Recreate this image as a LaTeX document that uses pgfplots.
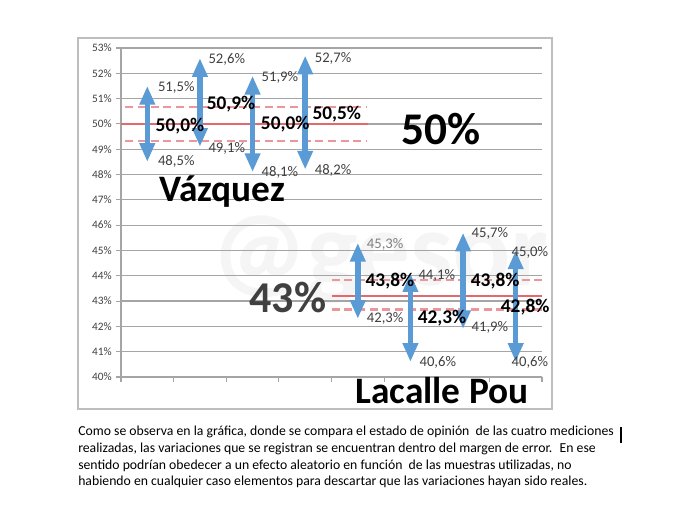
\documentclass[border=0pt]{standalone}
\usepackage{pgfplots}
\pgfplotsset{compat=1.18}
\usepackage{fontspec}
\setmainfont{Carlito}
\usetikzlibrary{arrows.meta}
\definecolor{arrowblue}{RGB}{91,155,213}
\definecolor{redline}{RGB}{226,105,110}
\definecolor{reddash}{RGB}{234,150,155}
\definecolor{gridgray}{RGB}{165,165,165}
\definecolor{labgray}{RGB}{64,64,64}
\definecolor{framegray}{RGB}{190,190,190}

\begin{document}
\begin{tikzpicture}
\useasboundingbox[fill=white] (0,0) rectangle (510pt,381pt);
% watermark
\node[font=\fontsize{80}{82}\bfseries, text=gray!8] at (285pt,186pt) {@gesor};

\begin{axis}[
  at={(90.75pt,98.25pt)}, anchor=south west,
  scale only axis, width=315.75pt, height=246.75pt,
  xmin=0, xmax=8, ymin=40, ymax=53,
  clip=false,
  axis lines*=left,
  axis line style={draw=gridgray, line width=0.8pt},
  xtick={0,...,8}, xticklabels={},
  ytick={40,...,53},
  yticklabel={\pgfmathprintnumber{\tick}\%},
  /pgf/number format/assume math mode=true,
  ticklabel style={font=\fontsize{8.5}{9}\selectfont, text=labgray},
  tick style={draw=gridgray, line width=0.8pt},
  tick align=outside, major tick length=3.5pt,
  ymajorgrids, grid style={draw=gridgray, line width=0.9pt},
  every axis plot/.append style={line cap=butt},
]
% margin of error lines
\addplot[redline, line width=2pt] coordinates {(0,50.0) (4.7,50.0)};
\addplot[reddash, line width=2pt, dash pattern=on 6pt off 3.5pt] coordinates {(0.08,50.67) (4.68,50.67)};
\addplot[reddash, line width=2pt, dash pattern=on 6pt off 3.5pt] coordinates {(0.08,49.33) (4.68,49.33)};
\addplot[redline, line width=2pt] coordinates {(4.0,43.2) (8,43.2)};
\addplot[reddash, line width=2pt, dash pattern=on 6pt off 3.5pt] coordinates {(4.0,43.83) (8,43.83)};
\addplot[reddash, line width=2pt, dash pattern=on 6pt off 3.5pt] coordinates {(4.0,42.67) (8,42.67)};

% ranges
\pgfplotsset{rng/.style={arrowblue, line width=4.2pt,
  {Triangle[width=11pt,length=14pt]}-{Triangle[width=11pt,length=14pt]}}}
\addplot[rng] coordinates {(0.5,48.5) (0.5,51.5)};
\addplot[rng] coordinates {(1.5,49.1) (1.5,52.6)};
\addplot[rng] coordinates {(2.5,48.1) (2.5,51.9)};
\addplot[rng] coordinates {(3.5,48.2) (3.5,52.7)};
\addplot[rng] coordinates {(4.5,42.3) (4.5,45.3)};
\addplot[rng] coordinates {(5.5,40.6) (5.5,44.1)};
\addplot[rng] coordinates {(6.5,41.9) (6.5,45.7)};
\addplot[rng] coordinates {(7.5,40.6) (7.5,45.0)};

% value labels
\tikzset{sm/.style={font=\fontsize{11}{12}\selectfont, text=labgray, inner sep=0pt},
         bd/.style={font=\fontsize{14.5}{15}\bfseries, text=black, inner sep=0pt}}
\node[sm] at (axis cs:1.05,51.45) {51,5\%};
\node[sm] at (axis cs:1.05,48.5) {48,5\%};
\node[bd] at (axis cs:1.12,49.92) {50,0\%};
\node[sm] at (axis cs:2.01,52.53) {52,6\%};
\node[bd] at (axis cs:2.09,50.79) {50,9\%};
\node[sm] at (axis cs:2.01,49.05) {49,1\%};
\node[sm] at (axis cs:3.02,51.85) {51,9\%};
\node[bd] at (axis cs:3.12,50.0) {50,0\%};
\node[sm] at (axis cs:3.02,48.1) {48,1\%};
\node[sm] at (axis cs:4.03,52.6) {52,7\%};
\node[bd] at (axis cs:4.10,50.39) {50,5\%};
\node[sm] at (axis cs:4.03,48.18) {48,2\%};

\node[sm, text=gray] at (axis cs:5.02,45.22) {45,3\%};
\node[bd] at (axis cs:5.11,43.79) {43,8\%};
\node[sm] at (axis cs:5.02,42.33) {42,3\%};
\node[sm] at (axis cs:6.00,44.03) {44,1\%};
\node[bd] at (axis cs:6.10,42.33) {42,3\%};
\node[sm] at (axis cs:6.02,40.59) {40,6\%};
\node[sm] at (axis cs:7.01,45.69) {45,7\%};
\node[bd] at (axis cs:7.11,43.79) {43,8\%};
\node[sm] at (axis cs:7.01,41.94) {41,9\%};
\node[sm] at (axis cs:7.77,44.94) {45,0\%};
\node[bd] at (axis cs:7.68,42.77) {42,8\%};
\node[sm] at (axis cs:7.77,40.59) {40,6\%};

% big labels
\node[font=\fontsize{28}{30}\bfseries, anchor=base, inner sep=0pt] at (axis cs:1.92,46.92) {Vázquez};
\node[font=\fontsize{34}{36}\bfseries, anchor=base, inner sep=0pt] at (axis cs:6.08,49.17) {50\%};
\node[font=\fontsize{33}{35}\bfseries, anchor=base, inner sep=0pt, text=labgray] at (axis cs:3.17,42.53) {43\%};
\node[font=\fontsize{28}{30}\bfseries, anchor=base, inner sep=0pt] at (axis cs:6.10,38.97) {Lacalle Pou};
\end{axis}

% chart frame
\draw[framegray, line width=0.8pt] (58.5pt,74.25pt) rectangle (414pt,352.5pt);

% caption
\begin{scope}[every node/.style={anchor=base west, inner sep=0pt, font=\fontsize{10.3}{12}\selectfont}]
\node at (58.5pt,54.75pt) {Como se observa en la gráfica, donde se compara el estado de opinión \ de las cuatro mediciones};
\node at (58.5pt,42pt) {realizadas, las variaciones que se registran se encuentran dentro del margen de error. \ En ese};
\node at (58.5pt,29.25pt) {sentido podrían obedecer a un efecto aleatorio en función \ de las muestras utilizadas, no};
\node at (58.5pt,17.25pt) {habiendo en cualquier caso elementos para descartar que las variaciones hayan sido reales.};
\end{scope}
\fill[black] (465pt,48.75pt) rectangle (466.8pt,61pt);
\end{tikzpicture}
\end{document}
